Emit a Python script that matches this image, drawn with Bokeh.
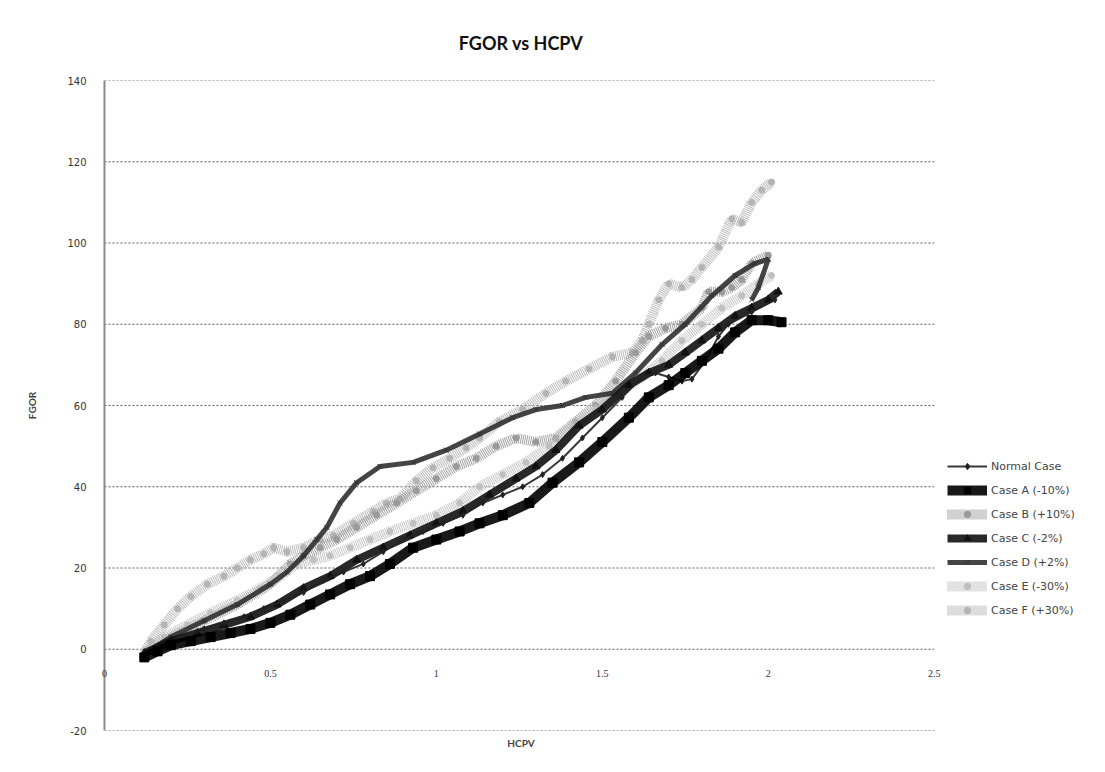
from bokeh.plotting import figure
from bokeh.models import (Range1d, FixedTicker, Legend, LegendItem, LabelSet,
                          ColumnDataSource, Span)
from bokeh.embed import file_html
from bokeh.resources import INLINE

# ---------------- data ----------------
x_ticks = [0, 0.5, 1, 1.5, 2, 2.5]
x_tick_labels = ["0", "0.5", "1", "1.5", "2", "2.5"]
y_ticks = [-20, 0, 20, 40, 60, 80, 100, 120, 140]
y_tick_labels = ["-20", "0", "20", "40", "60", "80", "100", "120", "140"]

normal_x = [0.12, 0.18, 0.24, 0.30, 0.36, 0.42, 0.48, 0.54, 0.60, 0.66, 0.72, 0.78, 0.84, 0.90,
            0.96, 1.02, 1.08, 1.14, 1.20, 1.26, 1.32, 1.38, 1.44, 1.50, 1.56, 1.62, 1.66, 1.70,
            1.74, 1.77, 1.81, 1.85, 1.88, 1.95, 2.02]
normal_y = [-1.5, 1, 3, 5, 6.5, 8, 10, 12, 14, 17, 19, 21, 24, 27,
            29, 31, 33, 36, 38, 40, 43, 47, 52, 57, 62, 67, 68, 67,
            66, 66.5, 71, 77, 80, 83, 86]

caseA_x = [0.12, 0.16, 0.20, 0.26, 0.32, 0.38, 0.44, 0.50, 0.56, 0.62, 0.68, 0.74, 0.80, 0.86,
           0.93, 1.00, 1.07, 1.13, 1.20, 1.28, 1.35, 1.43, 1.50, 1.58, 1.64, 1.70, 1.75, 1.80,
           1.85, 1.90, 1.95, 2.00, 2.04]
caseA_y = [-2, -0.5, 1, 2, 3, 4, 5, 6.5, 8.5, 11, 13.5, 16, 18, 21,
           25, 27, 29, 31, 33, 36, 41, 46, 51, 57, 62, 65, 68, 71,
           74, 78, 81, 81, 80.5]

caseB_x = [0.12, 0.20, 0.30, 0.40, 0.50, 0.56, 0.60, 0.65, 0.70, 0.76, 0.82, 0.88, 0.94, 1.00,
           1.06, 1.12, 1.18, 1.24, 1.30, 1.36, 1.42, 1.48, 1.54, 1.60, 1.64, 1.69, 1.74, 1.80,
           1.82, 1.86, 1.89, 1.92, 1.95, 2.00]
caseB_y = [-1, 3, 7, 11, 16, 21, 23, 25, 27, 30, 33, 36, 39, 42,
           45, 47, 50, 52, 51, 52, 56, 60, 66, 73, 77, 79, 80, 84,
           88, 88, 89, 91, 95, 97]

caseC_x = [0.12, 0.20, 0.28, 0.36, 0.44, 0.52, 0.60, 0.68, 0.76, 0.84, 0.92, 1.00, 1.08, 1.16,
           1.24, 1.30, 1.36, 1.43, 1.50, 1.58, 1.64, 1.70, 1.75, 1.80, 1.85, 1.90, 1.95, 2.00, 2.03]
caseC_y = [-1, 2, 4, 6, 8, 11, 15, 18, 22, 25, 28, 31, 34, 38,
           42, 45, 49, 55, 59, 65, 68, 70, 73, 76, 79, 82, 84, 86, 88]

caseD_x = [0.12, 0.20, 0.30, 0.40, 0.50, 0.55, 0.60, 0.64, 0.67, 0.71, 0.76, 0.83, 0.93, 1.03,
           1.13, 1.23, 1.30, 1.38, 1.45, 1.53, 1.60, 1.68, 1.75, 1.83, 1.90, 1.96, 2.00, 1.97, 1.95]
caseD_y = [-1, 3, 7, 11, 16, 19, 23, 27, 30, 36, 41, 45, 46, 49,
           53, 57, 59, 60, 62, 63, 68, 75, 80, 87, 92, 95, 96, 89, 86]

caseE_x = [0.12, 0.18, 0.25, 0.32, 0.40, 0.47, 0.53, 0.58, 0.63, 0.68, 0.74, 0.80, 0.86, 0.93,
           1.00, 1.07, 1.13, 1.20, 1.27, 1.34, 1.41, 1.48, 1.55, 1.62, 1.68, 1.74, 1.80, 1.86,
           1.92, 1.97, 2.01]
caseE_y = [-1, 3, 6, 9, 12, 15, 18, 21, 22, 23, 25, 27, 29, 31,
           33, 36, 40, 43, 46, 50, 55, 59, 63, 67, 71, 76, 80, 84,
           87, 90, 92]

caseF_x = [0.12, 0.14, 0.18, 0.22, 0.26, 0.31, 0.36, 0.40, 0.44, 0.48, 0.51, 0.55, 0.60, 0.65,
           0.69, 0.75, 0.81, 0.85, 0.89, 0.94, 0.99, 1.04, 1.09, 1.13, 1.19, 1.26, 1.33, 1.39,
           1.46, 1.53, 1.59, 1.62, 1.64, 1.67, 1.70, 1.74, 1.77, 1.80, 1.85, 1.89, 1.92, 1.95,
           1.98, 2.01]
caseF_y = [-1, 2, 6, 10, 13, 16, 18, 20, 22, 23.5, 25, 24, 25, 27,
           28, 31, 34, 36, 37, 41.5, 44.7, 47, 49.6, 52, 56, 59, 63, 66,
           69, 72, 73, 76, 80, 86, 90, 89, 91, 94, 99, 106, 105, 110,
           113, 115]

series_names = ["Normal Case", "Case A (-10%)", "Case B (+10%)", "Case C (-2%)",
                "Case D (+2%)", "Case E (-30%)", "Case F (+30%)"]

FONT = "Lato"
LFONT = "DejaVu Sans"

X_MIN, X_MAX = 0, 2.5

p = figure(frame_width=853, frame_height=650,
           x_range=Range1d(-0.03, 2.54), y_range=Range1d(-20, 140),
           output_backend="svg", toolbar_location=None,
           min_border_left=94, min_border_top=80, min_border_bottom=30,
           min_border_right=2, title="FGOR vs HCPV\n ")
p.outline_line_color = None
p.background_fill_color = "white"
p.border_fill_color = "white"

p.title.align = "center"
p.title.text_font = FONT
p.title.text_font_size = "18px"
p.title.text_font_style = "bold"
p.title.text_color = "#111111"
p.title.offset = 12

# y axis (labels in the left panel, axis line drawn at x = 0)
p.yaxis.ticker = FixedTicker(ticks=y_ticks)
p.yaxis.major_label_overrides = {t: l for t, l in zip(y_ticks, y_tick_labels)}
p.yaxis.axis_line_color = None
p.yaxis.major_tick_line_color = None
p.yaxis.minor_tick_line_color = None
p.yaxis.major_label_text_font = LFONT
p.yaxis.major_label_text_font_size = "10px"
p.yaxis.major_label_text_color = "#333333"
p.yaxis.major_label_standoff = 2
p.yaxis.axis_label = "FGOR"
p.yaxis.axis_label_text_font = FONT
p.yaxis.axis_label_text_font_size = "10px"
p.yaxis.axis_label_text_font_style = "bold"
p.yaxis.axis_label_standoff = 26
p.add_layout(Span(location=X_MIN, dimension="height", line_color="#8a8a8a", line_width=2))

# x axis: label only at the bottom; tick labels sit on the y = 0 line
p.xaxis.ticker = FixedTicker(ticks=[])
p.xaxis.axis_line_color = None
p.xaxis.major_tick_line_color = None
p.xaxis.minor_tick_line_color = None
p.xaxis.major_label_text_font_size = "0px"
p.xaxis.axis_label = "HCPV"
p.xaxis.axis_label_text_font = FONT
p.xaxis.axis_label_text_font_size = "10px"
p.xaxis.axis_label_text_font_style = "bold"
p.xaxis.axis_label_standoff = 6

tick_src = ColumnDataSource(dict(x=x_ticks, y=[0] * len(x_ticks), t=x_tick_labels))
p.add_layout(LabelSet(x="x", y="y", text="t", source=tick_src, y_offset=-24,
                      text_align="center", text_baseline="middle",
                      text_font=LFONT, text_font_size="10px", text_color="#333333"))

# horizontal gridlines spanning 0 .. 2.5 only
p.xgrid.visible = False
p.ygrid.visible = False
p.segment(x0=[X_MIN] * len(y_ticks), x1=[X_MAX] * len(y_ticks), y0=y_ticks, y1=y_ticks,
          line_color="#5a5a5a", line_dash="2 2", line_width=1)

# series
styles = {
    "Case F (+30%)": dict(x=caseF_x, y=caseF_y, color="#b4b4b4", lw=10, dash="1 1", marker="circle", ms=6),
    "Case B (+10%)": dict(x=caseB_x, y=caseB_y, color="#9a9a9a", lw=10, dash="1 1", marker="circle", ms=6),
    "Case E (-30%)": dict(x=caseE_x, y=caseE_y, color="#c0c0c0", lw=10, dash="1 1", marker="circle", ms=6),
    "Case D (+2%)": dict(x=caseD_x, y=caseD_y, color="#303030", lw=5, dash="solid", marker="x", ms=7),
    "Case C (-2%)": dict(x=caseC_x, y=caseC_y, color="#111111", lw=8, dash="solid", marker="triangle", ms=8),
    "Normal Case": dict(x=normal_x, y=normal_y, color="#222222", lw=2, dash="solid", marker="diamond", ms=6),
    "Case A (-10%)": dict(x=caseA_x, y=caseA_y, color="#000000", lw=10, dash="solid", marker="square", ms=9),
}

renderers = {}
for name, s in styles.items():
    ln = p.line(s["x"], s["y"], line_color=s["color"], line_width=s["lw"],
                line_dash=s["dash"], line_alpha=0.9)
    sc = p.scatter(s["x"], s["y"], marker=s["marker"], size=s["ms"],
                   line_color=s["color"], fill_color=s["color"])
    renderers[name] = [ln, sc]

legend = Legend(items=[LegendItem(label=n, renderers=renderers[n]) for n in series_names],
                location=(0, 112), border_line_color=None, background_fill_alpha=0,
                label_text_font=LFONT, label_text_font_size="11px",
                label_text_color="#444444", glyph_width=40, glyph_height=16,
                label_height=16, spacing=8, padding=2, margin=0, label_standoff=4)
p.add_layout(legend, "right")

open("out.html", "w").write(file_html(p, INLINE))
